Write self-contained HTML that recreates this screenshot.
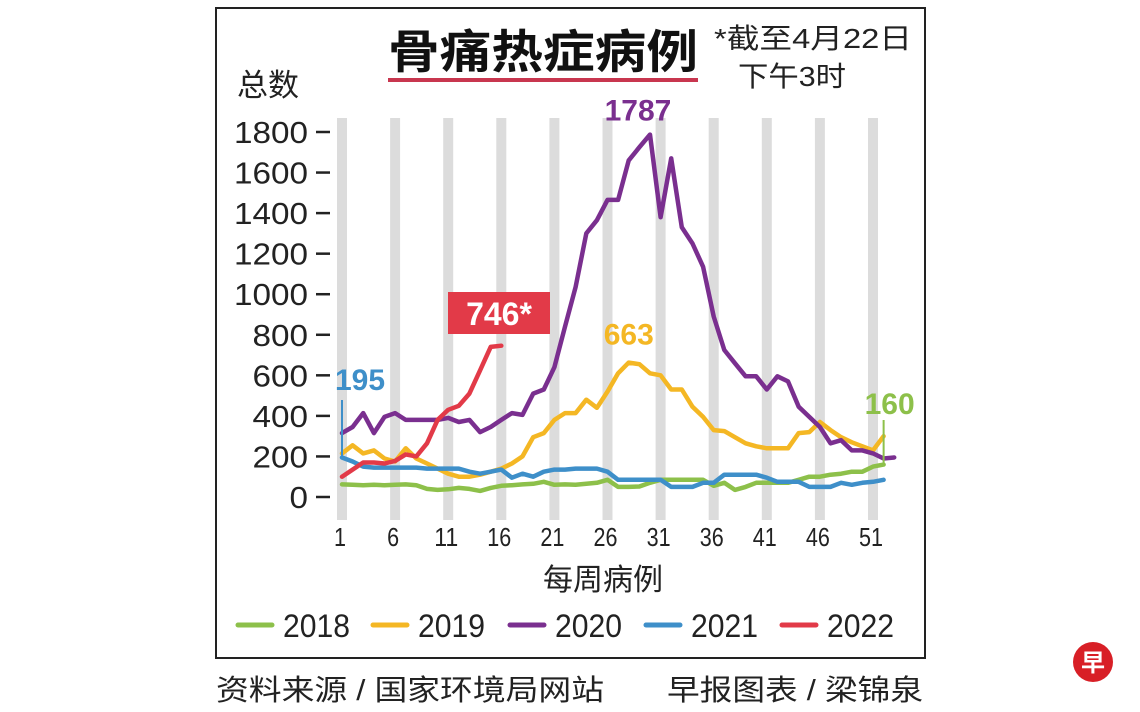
<!DOCTYPE html>
<html><head><meta charset="utf-8"><style>
html,body{margin:0;padding:0;background:#fff;}
svg{display:block;font-family:"Liberation Sans Narrow","Liberation Sans","Noto Sans CJK SC",sans-serif;}
</style></head><body>
<svg id="chart" width="1140" height="712" viewBox="0 0 1140 712" xmlns="http://www.w3.org/2000/svg">
<rect x="216" y="8" width="709" height="650" fill="#fff" stroke="#222" stroke-width="2"/>
<g id="stripes"></g>
<text x="388" y="68" font-size="46" font-weight="bold" fill="#111" textLength="310" lengthAdjust="spacingAndGlyphs" font-family="'Noto Sans CJK SC',sans-serif">骨痛热症病例</text>
<rect x="388" y="78" width="310" height="4" fill="#c8364f"/>
<text x="714" y="48" font-size="28" fill="#222" textLength="198" lengthAdjust="spacingAndGlyphs" font-family="'Liberation Sans','Noto Sans CJK SC',sans-serif">*截至4月22日</text>
<text x="738" y="86" font-size="28" fill="#222" textLength="108" lengthAdjust="spacingAndGlyphs" font-family="'Liberation Sans','Noto Sans CJK SC',sans-serif">下午3时</text>
<text x="237" y="96" font-size="31" fill="#222" font-family="'Noto Sans CJK SC',sans-serif">总数</text>
<g id="yaxis"></g>
<g id="xaxis"></g>
<text x="603" y="590" font-size="30" fill="#222" text-anchor="middle" font-family="'Noto Sans CJK SC',sans-serif">每周病例</text>
<g id="series"></g>
<g id="annotations"></g>
<g id="legend"></g>
<text x="216" y="700" font-size="29" fill="#222" textLength="388" lengthAdjust="spacingAndGlyphs" font-family="'Liberation Sans','Noto Sans CJK SC',sans-serif">资料来源 / 国家环境局网站</text>
<text x="667" y="700" font-size="29" fill="#222" textLength="256" lengthAdjust="spacingAndGlyphs" font-family="'Liberation Sans','Noto Sans CJK SC',sans-serif">早报图表 / 梁锦泉</text>
<g>
<circle cx="1093" cy="662" r="20" fill="#d81f26"/>
<text x="1093" y="671" font-size="24" font-weight="bold" fill="#fff" text-anchor="middle" font-family="'Noto Sans CJK SC',sans-serif">早</text>
</g>
</svg>
<script>
const yTicks=[0,200,400,600,800,1000,1200,1400,1600,1800];
const xTicks=[1,6,11,16,21,26,31,36,41,46,51];
const years=["2018","2019","2020","2021","2022"];
const colors=["#8dc04a","#f4b724","#7a2f8f","#3e8fc9","#e23a48"];
const v2018=[62,60,58,60,58,60,62,58,40,35,38,45,40,30,45,55,58,62,65,75,60,62,60,65,70,85,50,50,52,70,85,85,85,85,85,55,70,35,50,70,70,70,70,85,100,100,110,115,125,125,150,160];
const v2019=[215,255,215,230,190,175,240,190,165,140,115,100,100,110,125,140,165,200,295,315,380,414,414,480,440,520,610,663,655,610,600,530,530,445,395,330,325,295,265,250,240,240,240,315,320,370,330,295,270,250,230,300];
const v2020=[315,345,414,315,395,414,380,380,380,380,390,370,380,320,345,380,414,405,510,530,640,840,1035,1300,1365,1465,1465,1660,1725,1787,1380,1670,1330,1250,1135,890,725,660,595,595,530,595,570,445,395,345,265,280,230,230,215,190,195];
const v2021=[195,175,150,145,145,145,145,145,140,140,140,140,125,115,125,135,95,115,100,125,135,135,140,140,140,125,85,85,85,85,85,50,50,50,70,70,110,110,110,110,95,75,75,75,50,50,50,70,60,70,75,85];
const v2022=[100,135,170,170,165,178,210,200,265,380,430,450,510,625,740,746];
const allSeries=[v2018,v2019,v2020,v2021,v2022];
const NS="http://www.w3.org/2000/svg";
const X0=342,XS=10.62,Y0=497,YS=365/1800;
function xs(w){return X0+(w-1)*XS;}
function ys(v){return Y0-v*YS;}
function mk(tag,attrs,parent){const e=document.createElementNS(NS,tag);for(const k in attrs)e.setAttribute(k,attrs[k]);parent.appendChild(e);return e;}
const gStr=document.getElementById('stripes');
xTicks.forEach(w=>{
  const r=mk('rect',{x:xs(w)-5,y:118,width:10,height:402,fill:'#dcdcdc'},gStr);
  
  
});
const gY=document.getElementById('yaxis');
yTicks.forEach(v=>{
  const s=String(v);
  const t=mk('text',{x:308,y:ys(v)+11,'font-size':31,fill:'#222','text-anchor':'end',textLength:s.length*18.5,lengthAdjust:'spacingAndGlyphs'},gY);
  t.textContent=v;
  
  
  const l=mk('line',{x1:316,x2:330,y1:ys(v),y2:ys(v),stroke:'#222','stroke-width':2.5},gY);
  
  
});
const gX=document.getElementById('xaxis');
xTicks.forEach(w=>{
  const s=String(w);
  const t=mk('text',{x:xs(w)-2,y:546,'font-size':26,fill:'#222','text-anchor':'middle',textLength:s.length*12,lengthAdjust:'spacingAndGlyphs'},gX);
  t.textContent=w;
  
  
});
const gS=document.getElementById('series');
allSeries.forEach((s,i)=>{
  const pts=s.map((v,k)=>xs(k+1).toFixed(1)+','+ys(v).toFixed(1)).join(' ');
  const p=mk('polyline',{points:pts,fill:'none',stroke:colors[i],'stroke-width':4.5,'stroke-linejoin':'round','stroke-linecap':'round'},gS);
  
  
});
const gA=document.getElementById('annotations');
let pk=v2020.indexOf(Math.max(...v2020));
let a=mk('text',{x:xs(pk+1)-12,y:ys(v2020[pk])-14,'font-size':30,'font-weight':'bold',fill:'#7a2f8f','text-anchor':'middle','font-family':'Liberation Sans'},gA);
a.textContent=Math.max(...v2020);


let pk19=v2019.indexOf(Math.max(...v2019));
a=mk('text',{x:xs(pk19+1),y:ys(v2019[pk19])-18,'font-size':30,'font-weight':'bold',fill:'#f4b724','text-anchor':'middle','font-family':'Liberation Sans'},gA);
a.textContent=Math.max(...v2019);


a=mk('line',{x1:xs(1),x2:xs(1),y1:ys(v2021[0]),y2:400,stroke:'#3e8fc9','stroke-width':2},gA);


a=mk('text',{x:335,y:390,'font-size':30,'font-weight':'bold',fill:'#3e8fc9','font-family':'Liberation Sans'},gA);
a.textContent=v2021[0];


let l18=v2018.length;
a=mk('line',{x1:xs(l18),x2:xs(l18),y1:ys(v2018[l18-1]),y2:420,stroke:'#8dc04a','stroke-width':2},gA);


a=mk('text',{x:xs(l18)+6,y:414,'font-size':30,'font-weight':'bold',fill:'#8dc04a','text-anchor':'middle','font-family':'Liberation Sans'},gA);
a.textContent=v2018[l18-1];


let l22=v2022.length;
a=mk('rect',{x:448,y:292,width:102,height:42,fill:'#e23a48'},gA);


a=mk('text',{x:499,y:325,'font-size':32,'font-weight':'bold',fill:'#fff','text-anchor':'middle','font-family':'Liberation Sans'},gA);
a.textContent=v2022[l22-1]+'*';


const gL=document.getElementById('legend');
const lx=[238,373,510,646,782];
years.forEach((y,i)=>{
  const l=mk('line',{x1:lx[i],x2:lx[i]+34,y1:625,y2:625,stroke:colors[i],'stroke-width':5,'stroke-linecap':'round'},gL);
  
  
  const t=mk('text',{x:lx[i]+45,y:637,'font-size':32,fill:'#222',textLength:67,lengthAdjust:'spacingAndGlyphs'},gL);
  t.textContent=y;
  
  
});
</script>
</body></html>
